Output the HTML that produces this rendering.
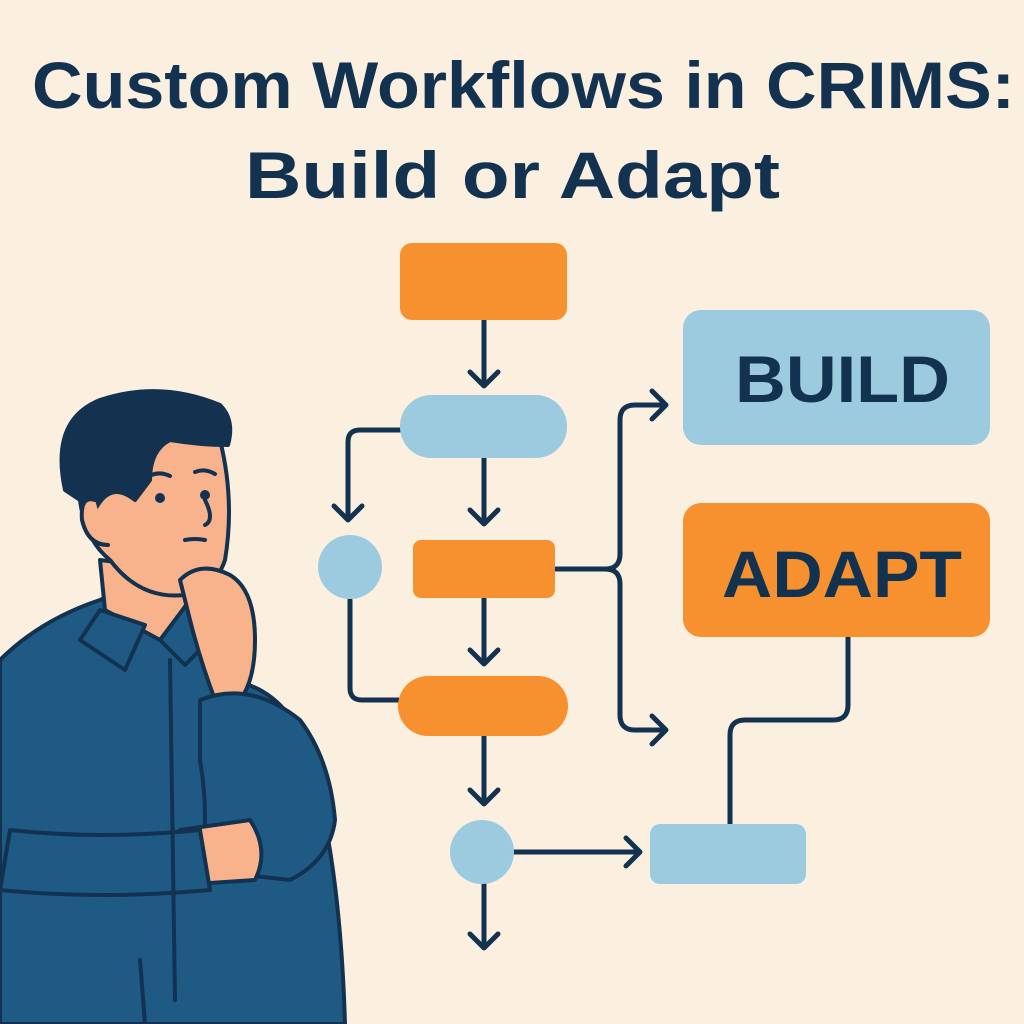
<!DOCTYPE html>
<html><head><meta charset="utf-8"><style>
html,body{margin:0;padding:0;background:#FBEFE0;}
svg{display:block}
</style></head><body>
<svg width="1024" height="1024" viewBox="0 0 1024 1024" xmlns="http://www.w3.org/2000/svg">
<rect width="1024" height="1024" fill="#FBEFE0"/>
<g font-family="Liberation Sans, sans-serif" font-weight="bold" fill="#123250">
<text x="32" y="108" font-size="66" textLength="983" lengthAdjust="spacingAndGlyphs">Custom Workflows in CRIMS:</text>
<text x="245" y="198" font-size="66" textLength="535" lengthAdjust="spacingAndGlyphs">Build or Adapt</text>
</g>
<g stroke="#123250" stroke-width="5" fill="none" stroke-linecap="round" stroke-linejoin="round">
<path d="M484 320 V386 M470 372 L484 386 L498 372"/>
<path d="M484 458 V524 M470 510 L484 524 L498 510"/>
<path d="M484 598 V664 M470 650 L484 664 L498 650"/>
<path d="M484 736 V804 M470 790 L484 804 L498 790"/>
<path d="M484 884 V948 M470 934 L484 948 L498 934"/>
<path d="M400 430 H360 Q348 430 348 442 V520 M334 506 L348 520 L362 506"/>
<path d="M350 600 V688 Q350 700 362 700 H398"/>
<path d="M514 852 H640 M626 838 L640 852 L626 866"/>
<path d="M555 569 H605 Q620 569 620 554 V420 Q620 405 635 405 H666 M652 391 L666 405 L652 419"/>
<path d="M605 569 Q620 569 620 584 V715 Q620 730 635 730 H666 M652 716 L666 730 L652 744"/>
<path d="M848 637 V705 Q848 720 833 720 H745 Q730 720 730 735 V824"/>
</g>
<rect x="400" y="243" width="167" height="77" rx="12" fill="#F7902F"/>
<rect x="400" y="395" width="167" height="63" rx="31" fill="#9CCBE0"/>
<circle cx="350" cy="567" r="32" fill="#9CCBE0"/>
<rect x="413" y="540" width="142" height="58" rx="8" fill="#F7902F"/>
<rect x="398" y="676" width="170" height="60" rx="30" fill="#F7902F"/>
<circle cx="482" cy="852" r="32" fill="#9CCBE0"/>
<rect x="650" y="824" width="156" height="60" rx="10" fill="#9CCBE0"/>
<rect x="683" y="310" width="307" height="135" rx="18" fill="#9CCBE0"/>
<rect x="683" y="503" width="307" height="134" rx="18" fill="#F7902F"/>
<g font-family="Liberation Sans, sans-serif" font-weight="bold" fill="#123250" font-size="66">
<text x="735" y="402" textLength="215" lengthAdjust="spacingAndGlyphs">BUILD</text>
<text x="722" y="597" textLength="240" lengthAdjust="spacingAndGlyphs">ADAPT</text>
</g>
<g stroke="#123250" stroke-width="4" stroke-linejoin="round" stroke-linecap="round">
<path d="M0 660 Q40 620 100 600 L140 580 L190 630 L230 680 Q290 690 310 760 Q340 860 345 1024 L0 1024 Z" fill="#1F5A85"/>
<path d="M100 560 L105 610 L160 640 L200 620 L180 570 Z" fill="#F8B38C"/>
<path d="M80 470 Q70 420 120 410 Q190 395 220 440 Q235 500 225 560 Q215 590 185 595 Q140 600 110 560 Q85 540 80 500 Z" fill="#F8B38C"/>
<path d="M65 490 Q50 420 100 400 Q160 380 220 405 Q235 420 228 445 Q200 445 170 440 Q150 450 150 480 L135 500 Q110 480 95 510 Z" fill="#123250"/>
<path d="M95 500 Q80 495 82 520 Q88 545 108 545" fill="#F8B38C"/>
<path d="M100 610 L80 640 L125 670 L145 625 Z M160 640 L190 600 L210 640 L185 665 Z" fill="#1F5A85"/>
<path d="M180 580 Q200 560 230 575 Q255 590 255 640 Q255 680 240 700 L215 700 Q200 660 190 620 Z" fill="#F8B38C"/>
<path d="M200 700 Q250 680 300 720 Q330 760 335 820 Q330 860 290 880 L200 870 Q210 820 200 760 Z" fill="#1F5A85"/>
<path d="M180 830 L250 820 Q270 850 255 880 L180 885 Z" fill="#F8B38C"/>
<path d="M10 830 Q100 840 200 830 L210 890 Q100 900 0 890 Z" fill="#1F5A85"/>
<path d="M140 960 L145 1024 M170 660 L175 1000" fill="none"/>
</g>
<g fill="#123250"><circle cx="160" cy="498" r="5"/><circle cx="205" cy="495" r="5"/></g>
<g stroke="#123250" stroke-width="4" fill="none" stroke-linecap="round"><path d="M145 478 Q158 470 170 476 M195 472 Q205 468 215 474 M185 540 Q195 538 205 540 M205 500 Q215 520 205 525"/></g>
</svg>
</body></html>
